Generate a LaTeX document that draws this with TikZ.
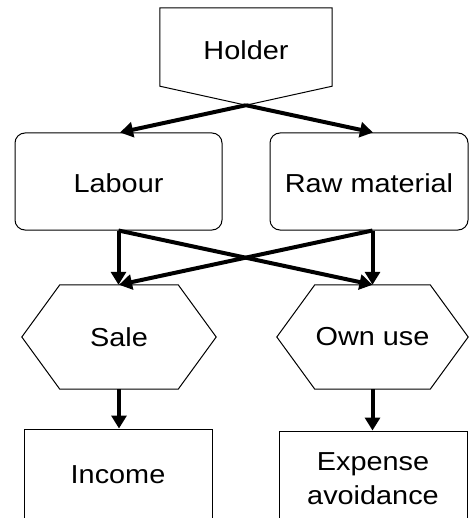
\documentclass[tikz,border=0pt]{standalone}
\usepackage{fontspec}
\setmainfont[FakeStretch=1.11]{Liberation Sans}
\usetikzlibrary{arrows.meta}
\begin{document}
\begin{tikzpicture}[x=1pt,y=-1pt,
  outline/.style={line width=1pt},
  txt/.style={inner sep=0pt, font=\fontsize{26}{34.5}\selectfont, align=center},
  rbox/.style={txt, draw, outline, rounded corners=10pt},
  sbox/.style={txt, draw, outline},
  conn/.style={line width=4pt, -{Triangle[length=13pt,width=15pt]}}]
\useasboundingbox (0,0) rectangle (470,518);
\clip (0,0) rectangle (470,518);
% nodes
\node[txt, minimum width=172pt, minimum height=78pt, text height=26pt, text depth=0pt] (holder) at (246,47) {Holder};
\coordinate (htip) at ([yshift=-19pt]holder.south);
\node[rbox, minimum width=207pt, minimum height=97pt, text height=23pt, text depth=0pt] (labour) at (118.5,181.5) {Labour};
\node[rbox, minimum width=198pt, minimum height=97pt, text height=23pt, text depth=0pt] (raw) at (369,181.5) {Raw material};
\node[txt, minimum width=194pt, minimum height=104pt] (sale) at (119,337) {Sale};
\node[txt, minimum width=191pt, minimum height=104pt] (own) at (372.5,337) {Own use};
\node[sbox, minimum width=188pt, minimum height=92pt] (income) at (118,475) {Income};
\node[sbox, minimum width=188pt, minimum height=95pt] (expense) at (373,478.5) {Expense\\avoidance};
% outlines
\draw[outline] (holder.north west) -- (holder.north east) -- (holder.south east) -- (htip) -- (holder.south west) -- cycle;
\foreach \n in {sale,own}
  \draw[outline] (\n.west) -- ([xshift=38pt]\n.north west) -- ([xshift=-38pt]\n.north east) -- (\n.east) -- ([xshift=-38pt]\n.south east) -- ([xshift=38pt]\n.south west) -- cycle;
% connectors
\draw[conn] (htip) -- ([xshift=1.5pt]labour.north);
\draw[conn] (htip) -- ([xshift=4pt]raw.north);
\draw[conn] (labour.south) -- (labour.south |- sale.north);
\draw[conn] (labour.south) -- (own.north);
\draw[conn] (raw.south -| own.north) -- (own.north);
\draw[conn] (raw.south -| own.north) -- (sale.north);
\draw[conn] (sale.south) -- (sale.south |- income.north);
\draw[conn] (own.south) -- (own.south |- expense.north);
\end{tikzpicture}
\end{document}
